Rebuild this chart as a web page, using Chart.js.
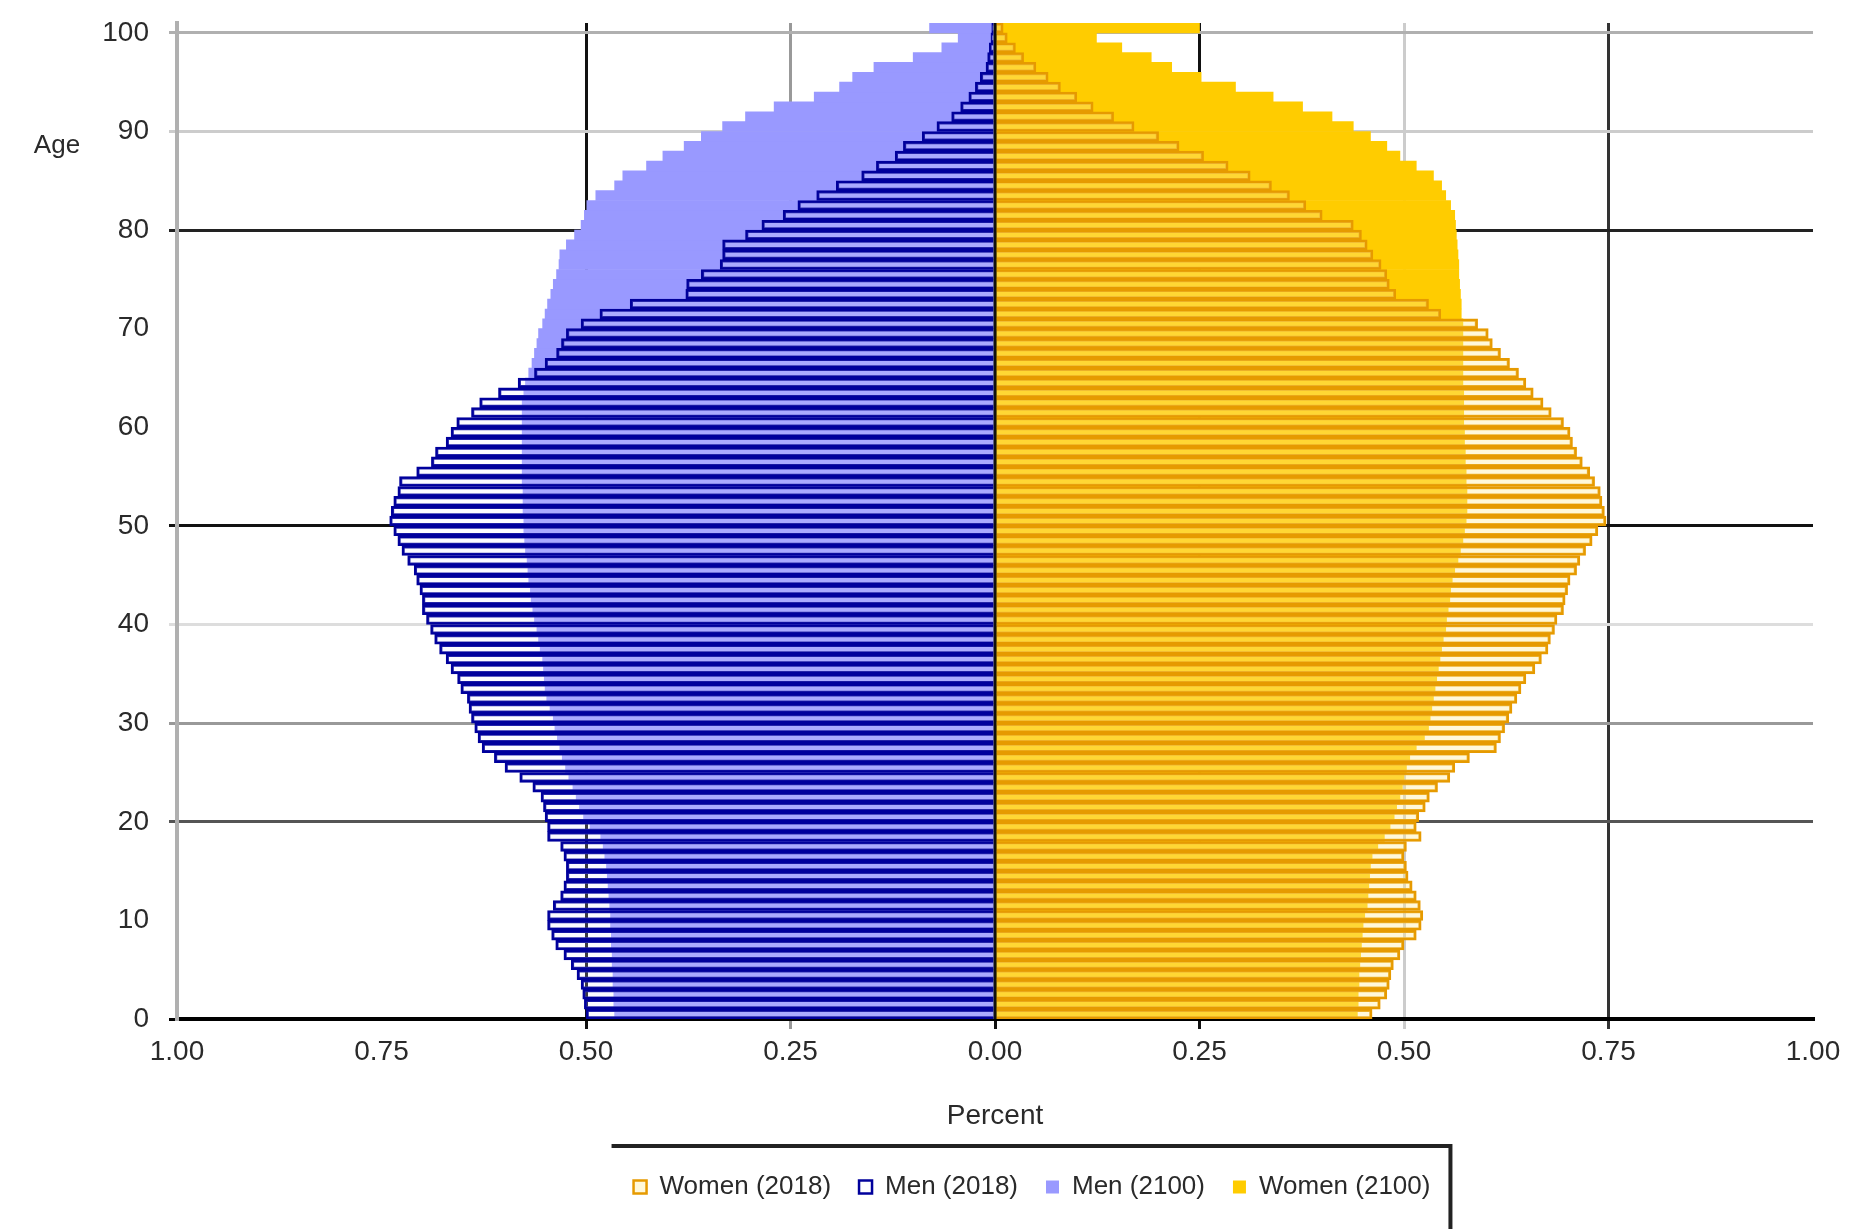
<!DOCTYPE html>
<html>
<head>
<meta charset="utf-8">
<title>Age pyramid 2018 / 2100</title>
<script src="https://cdn.jsdelivr.net/npm/chart.js@4.4.1/dist/chart.umd.min.js"></script>
<style>
  html, body { margin: 0; padding: 0; background: #fff; }
  canvas { display: block; }
</style>
</head>
<body>
<canvas id="chart" width="1856" height="1229"></canvas>
<script>
// one bar per year of age, 0 .. 100
const ages = Array.from({ length: 101 }, (_, i) => String(i));

// percent of total population, index = age
const women2018 = [
  0.461, 0.471, 0.479, 0.482, 0.484, 0.487, 0.495, 0.500, 0.515, 0.521,
  0.523, 0.520, 0.515, 0.510, 0.505, 0.503, 0.500, 0.503, 0.521, 0.515,
  0.518, 0.526, 0.531, 0.541, 0.556, 0.562, 0.580, 0.613, 0.618, 0.623,
  0.628, 0.632, 0.638, 0.643, 0.649, 0.660, 0.668, 0.676, 0.679, 0.684,
  0.687, 0.695, 0.697, 0.700, 0.703, 0.711, 0.715, 0.722, 0.730, 0.737,
  0.747, 0.745, 0.742, 0.740, 0.733, 0.727, 0.718, 0.711, 0.706, 0.703,
  0.695, 0.680, 0.670, 0.658, 0.649, 0.640, 0.629, 0.618, 0.608, 0.603,
  0.590, 0.545, 0.530, 0.490, 0.482, 0.479, 0.472, 0.462, 0.455, 0.448,
  0.438, 0.400, 0.380, 0.360, 0.338, 0.312, 0.285, 0.255, 0.225, 0.200,
  0.170, 0.145, 0.120, 0.100, 0.080, 0.065, 0.050, 0.035, 0.025, 0.015,
  0.010
];
const men2018 = [
  0.500, 0.502, 0.504, 0.506, 0.511, 0.518, 0.527, 0.537, 0.542, 0.547,
  0.547, 0.540, 0.531, 0.527, 0.524, 0.524, 0.527, 0.531, 0.547, 0.547,
  0.550, 0.552, 0.555, 0.565, 0.581, 0.599, 0.612, 0.627, 0.632, 0.636,
  0.640, 0.643, 0.645, 0.653, 0.657, 0.665, 0.671, 0.679, 0.685, 0.690,
  0.695, 0.700, 0.700, 0.703, 0.707, 0.710, 0.718, 0.725, 0.730, 0.735,
  0.740, 0.738, 0.735, 0.730, 0.728, 0.707, 0.689, 0.684, 0.671, 0.665,
  0.658, 0.640, 0.630, 0.607, 0.583, 0.563, 0.550, 0.536, 0.530, 0.524,
  0.506, 0.483, 0.446, 0.378, 0.377, 0.359, 0.336, 0.333, 0.333, 0.305,
  0.285, 0.259, 0.241, 0.218, 0.194, 0.163, 0.145, 0.122, 0.112, 0.089,
  0.071, 0.053, 0.042, 0.032, 0.024, 0.018, 0.011, 0.009, 0.007, 0.005,
  0.004
];
const men2100 = [
  0.465, 0.466, 0.466, 0.467, 0.467, 0.468, 0.468, 0.469, 0.469, 0.470,
  0.470, 0.471, 0.472, 0.473, 0.474, 0.475, 0.477, 0.479, 0.482, 0.495,
  0.503, 0.508, 0.512, 0.516, 0.521, 0.525, 0.529, 0.532, 0.535, 0.538,
  0.540, 0.544, 0.548, 0.550, 0.551, 0.552, 0.553, 0.556, 0.558, 0.560,
  0.563, 0.565, 0.567, 0.568, 0.570, 0.571, 0.572, 0.574, 0.575, 0.576,
  0.576, 0.577, 0.577, 0.577, 0.578, 0.578, 0.578, 0.578, 0.578, 0.578,
  0.578, 0.578, 0.578, 0.576, 0.574, 0.570, 0.566, 0.563, 0.560, 0.558,
  0.553, 0.550, 0.547, 0.543, 0.540, 0.536, 0.533, 0.532, 0.524, 0.514,
  0.506, 0.502, 0.499, 0.488, 0.465, 0.455, 0.426, 0.406, 0.380, 0.359,
  0.333, 0.305, 0.270, 0.221, 0.190, 0.174, 0.148, 0.100, 0.065, 0.045,
  0.080
];
const women2100 = [
  0.443, 0.444, 0.444, 0.445, 0.445, 0.446, 0.447, 0.448, 0.449, 0.450,
  0.452, 0.455, 0.456, 0.457, 0.458, 0.459, 0.461, 0.468, 0.476, 0.483,
  0.488, 0.491, 0.495, 0.498, 0.500, 0.503, 0.507, 0.515, 0.525, 0.530,
  0.532, 0.534, 0.536, 0.538, 0.540, 0.542, 0.544, 0.546, 0.548, 0.551,
  0.552, 0.554, 0.556, 0.557, 0.559, 0.562, 0.566, 0.569, 0.572, 0.574,
  0.576, 0.577, 0.577, 0.577, 0.576, 0.576, 0.575, 0.575, 0.574, 0.574,
  0.573, 0.573, 0.573, 0.573, 0.572, 0.572, 0.572, 0.572, 0.572, 0.572,
  0.572, 0.570, 0.570, 0.569, 0.568, 0.567, 0.567, 0.566, 0.565, 0.564,
  0.563, 0.562, 0.557, 0.551, 0.546, 0.536, 0.515, 0.495, 0.479, 0.459,
  0.438, 0.412, 0.376, 0.340, 0.294, 0.252, 0.216, 0.191, 0.155, 0.124,
  0.250
];

// gridline colours, they differ line by line in the original picture
const ageGrid = { 0: '#000', 20: '#555', 30: '#999', 40: '#ddd', 50: '#111',
                  80: '#222', 90: '#ccc', 100: '#b0b0b0', 101: '#e0e0e0' };
const pctGrid = { '-0.5': '#111', '-0.25': '#999', '0': '#111', '0.25': '#111',
                  '0.5': '#ccc', '0.75': '#333' };

const font = { family: '"Liberation Sans", Arial, sans-serif', size: 28 };
const textColor = '#2a2a2a';

// men are drawn to the left of zero
const negate = arr => arr.map(v => -v);

const common = { grouped: false, barPercentage: 1, categoryPercentage: 1 };

// zero line on top of the bars, "Age" caption and the legend frame
const extras = {
  id: 'extras',
  afterLayout(chart) {
    const lg = chart.legend;
    lg.left += 37;
    lg.right += 37;
    lg.legendHitBoxes.forEach(b => { b.left += 37; });
  },
  afterDatasetsDraw(chart) {
    const { ctx, chartArea, scales } = chart;
    const x0 = scales.x.getPixelForValue(0);
    ctx.save();
    ctx.strokeStyle = '#111';
    ctx.lineWidth = 3;
    ctx.beginPath();
    ctx.moveTo(x0, chartArea.top);
    ctx.lineTo(x0, chartArea.bottom);
    ctx.stroke();
    ctx.restore();
  },
  afterDraw(chart) {
    const { ctx, scales } = chart;
    ctx.save();
    ctx.fillStyle = textColor;
    ctx.font = '26px ' + font.family;
    ctx.textAlign = 'center';
    ctx.textBaseline = 'middle';
    ctx.fillText('Age', 57, scales.y.getPixelForValue(88));

    const boxes = chart.legend.legendHitBoxes;
    const left = Math.min(...boxes.map(b => b.left)) - 22;
    const right = Math.max(...boxes.map(b => b.left + b.width)) + 20;
    const top = chart.legend.top;
    ctx.strokeStyle = '#222';
    ctx.lineWidth = 4;
    ctx.beginPath();
    ctx.moveTo(left, top);
    ctx.lineTo(right, top);
    ctx.lineTo(right, chart.height + 4);
    ctx.stroke();
    ctx.restore();
  }
};

new Chart(document.getElementById('chart'), {
  type: 'bar',
  data: {
    labels: ages,
    datasets: [
      { ...common, label: 'Women (2018)', data: women2018,
        backgroundColor: 'rgba(255, 236, 150, 0.35)', borderColor: '#e69a00', borderWidth: 2.5 },
      { ...common, label: 'Men (2018)', data: negate(men2018),
        backgroundColor: 'rgba(240, 240, 255, 0.2)', borderColor: '#00009c', borderWidth: 2.5 },
      { ...common, label: 'Men (2100)', data: negate(men2100),
        backgroundColor: '#9999ff', borderWidth: 0 },
      { ...common, label: 'Women (2100)', data: women2100,
        backgroundColor: '#ffcc00', borderWidth: 0 }
    ]
  },
  options: {
    indexAxis: 'y',
    responsive: false,
    animation: false,
    layout: { padding: { top: 23, right: 43, bottom: 19, left: 0 } },
    scales: {
      x: {
        type: 'linear',
        min: -1,
        max: 1,
        afterFit: s => { s.height = 127; },
        border: { color: '#000', width: 4 },
        grid: {
          color: c => pctGrid[String(c.tick.value)] || 'rgba(0,0,0,0)',
          lineWidth: 3,
          tickLength: 10,
          tickColor: c => pctGrid[String(c.tick.value)] || 'rgba(0,0,0,0)'
        },
        ticks: {
          stepSize: 0.25,
          color: textColor,
          font,
          padding: 6,
          callback: v => Math.abs(v).toFixed(2)
        },
        title: { display: true, text: 'Percent', color: textColor, font, padding: { top: 0, bottom: 13 } }
      },
      y: {
        reverse: true,
        afterFit: s => {
          s.width = 177;
          s.paddingTop = 0;
          s.paddingBottom = 0;
        },
        border: { color: '#b0b0b0', width: 4 },
        grid: {
          color: c => ageGrid[c.index] || 'rgba(0,0,0,0)',
          lineWidth: 3,
          tickLength: 8,
          tickColor: c => ageGrid[c.index] || 'rgba(0,0,0,0)'
        },
        ticks: {
          autoSkip: false,
          color: textColor,
          font,
          padding: 20,
          labelOffset: 5,
          callback: (v, i) => (i % 10 === 0 ? ages[i] : '')
        }
      }
    },
    plugins: {
      legend: {
        position: 'bottom',
        fullSize: false,
        labels: {
          color: textColor,
          font: { family: font.family, size: 26 },
          boxWidth: 13,
          boxHeight: 13,
          padding: 28
        }
      },
      tooltip: { enabled: false }
    }
  },
  plugins: [extras]
});
</script>
</body>
</html>
